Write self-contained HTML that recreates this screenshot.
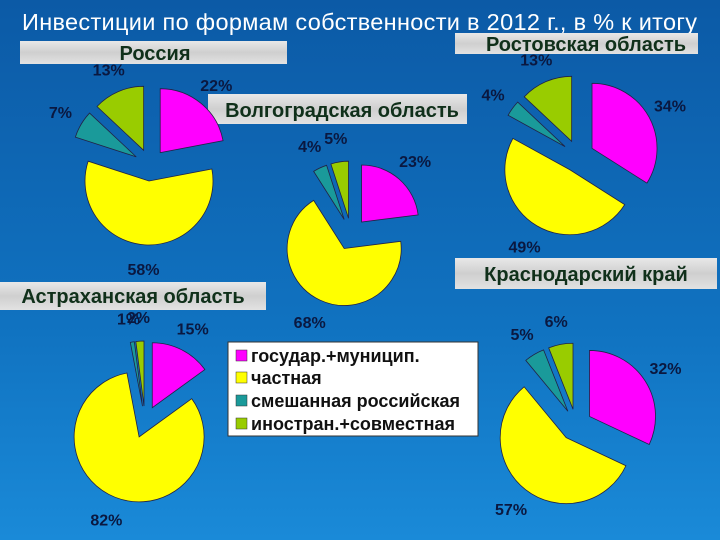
<!DOCTYPE html>
<html><head><meta charset="utf-8"><style>
body{margin:0;width:720px;height:540px;overflow:hidden;font-family:"Liberation Sans",sans-serif}
svg{display:block}
</style></head><body>
<svg id="chart" width="720" height="540">
<defs>
<linearGradient id="bg" x1="0" y1="0" x2="0" y2="1"><stop offset="0" stop-color="#0c5aa6"/><stop offset="0.6" stop-color="#1072c0"/><stop offset="1" stop-color="#1a8ad8"/></linearGradient>
<linearGradient id="lab" x1="0" y1="0" x2="0" y2="1"><stop offset="0" stop-color="#e8e8e8"/><stop offset="0.5" stop-color="#cfcfcf"/><stop offset="1" stop-color="#e2e2e2"/></linearGradient>
</defs>
<rect width="720" height="540" fill="url(#bg)"/>
<text x="22" y="30" fill="#ffffff" font-size="23.5" textLength="675">Инвестиции по формам собственности в 2012 г., в % к итогу</text>
<g><rect x="20" y="41" width="267" height="23" fill="url(#lab)"/><text x="155" y="60" text-anchor="middle" font-size="20" font-weight="bold" fill="#10301a">Россия</text></g>
<g><rect x="208" y="94" width="259" height="30" fill="url(#lab)"/><text x="342" y="117" text-anchor="middle" font-size="20" font-weight="bold" fill="#10301a">Волгоградская область</text></g>
<g><rect x="455" y="33" width="243" height="21" fill="url(#lab)"/><text x="586" y="51" text-anchor="middle" font-size="20" font-weight="bold" fill="#10301a">Ростовская область</text></g>
<g><rect x="455" y="258" width="262" height="31" fill="url(#lab)"/><text x="586" y="281" text-anchor="middle" font-size="20" font-weight="bold" fill="#10301a">Краснодарский край</text></g>
<g><rect x="0" y="282" width="266" height="28" fill="url(#lab)"/><text x="133" y="303" text-anchor="middle" font-size="20" font-weight="bold" fill="#10301a">Астраханская область</text></g>
<g id="pies"></g>
<g>
<rect x="228" y="342" width="250" height="94" fill="#ffffff" stroke="#333" stroke-width="1"/>
<rect x="236" y="350" width="11" height="11" fill="#ff00ff" stroke="#333" stroke-width="0.5"/>
<text x="251" y="362" font-size="18" font-weight="bold" fill="#111">государ.+муницип.</text>
<rect x="236" y="372" width="11" height="11" fill="#ffff00" stroke="#333" stroke-width="0.5"/>
<text x="251" y="384" font-size="18" font-weight="bold" fill="#111">частная</text>
<rect x="236" y="395" width="11" height="11" fill="#1a9a9a" stroke="#333" stroke-width="0.5"/>
<text x="251" y="407" font-size="18" font-weight="bold" fill="#111">смешанная российская</text>
<rect x="236" y="418" width="11" height="11" fill="#99cc00" stroke="#333" stroke-width="0.5"/>
<text x="251" y="430" font-size="18" font-weight="bold" fill="#111">иностран.+совместная</text>
</g>
</svg>
<script>
const categories = ["государ.+муницип.", "частная", "смешанная российская", "иностран.+совместная"];
const russia = [22, 58, 7, 13];
const volgograd = [23, 68, 4, 5];
const rostov = [34, 49, 4, 13];
const astrakhan = [15, 82, 1, 2];
const krasnodar = [32, 57, 5, 6];
const colors = ["#ff00ff", "#ffff00", "#1a9a9a", "#99cc00"];
const ns = "http://www.w3.org/2000/svg";
const g = document.getElementById('pies');
function pie(name, vals, cx, cy, r){
  const total = vals.reduce((a,b)=>a+b,0);
  let acc = 0;
  vals.forEach((v,i)=>{
    const a0 = acc/total*2*Math.PI, a1 = (acc+v)/total*2*Math.PI; acc += v;
    const am = (a0+a1)/2, ex = 16;
    const ox = cx + ex*Math.sin(am), oy = cy - ex*Math.cos(am);
    const x0 = ox + r*Math.sin(a0), y0 = oy - r*Math.cos(a0);
    const x1 = ox + r*Math.sin(a1), y1 = oy - r*Math.cos(a1);
    const large = (a1-a0) > Math.PI ? 1 : 0;
    const p = document.createElementNS(ns,'path');
    p.setAttribute('d', `M${ox},${oy} L${x0},${y0} A${r},${r} 0 ${large} 1 ${x1},${y1} Z`);
    p.setAttribute('fill', colors[i]); p.setAttribute('stroke', '#222244'); p.setAttribute('stroke-width','0.8');
    
    
    g.appendChild(p);
    const lr = r + 24;
    const t = document.createElementNS(ns,'text');
    t.setAttribute('x', ox + lr*Math.sin(am)); t.setAttribute('y', oy - lr*Math.cos(am) + 6);
    t.setAttribute('text-anchor','middle'); t.setAttribute('font-size','16'); t.setAttribute('font-weight','bold'); t.setAttribute('fill','#0a1840');
    t.textContent = v + '%';
    
    
    g.appendChild(t);
  });
}
pie('russia', russia, 150, 165, 64);
pie('volgograd', volgograd, 351, 234, 57);
pie('rostov', rostov, 578, 156, 65);
pie('astrakhan', astrakhan, 145, 422, 65);
pie('krasnodar', krasnodar, 576, 425, 66);
</script>
</body></html>
